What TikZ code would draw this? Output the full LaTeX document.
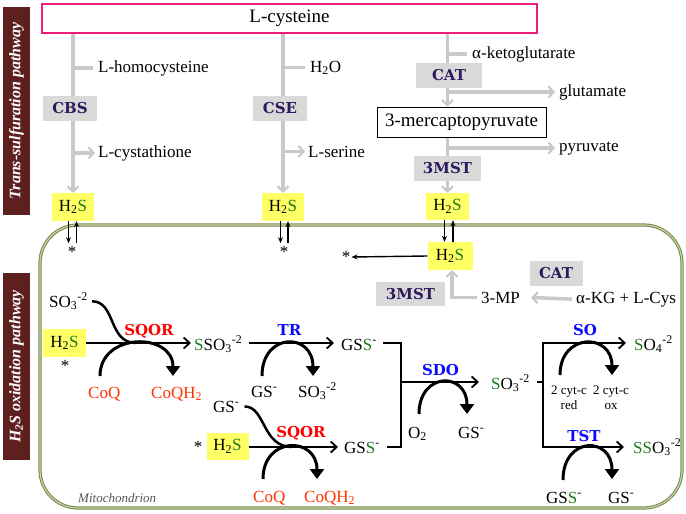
\documentclass[tikz,border=0pt]{standalone}
\usepackage{fontspec}
\setmainfont{Liberation Serif}
\newfontfamily\enzfont{DejaVu Serif}
\usetikzlibrary{arrows.meta,backgrounds}
\definecolor{cyspink}{HTML}{EC1E79}
\definecolor{sidebar}{HTML}{5E1F1F}
\definecolor{enzgray}{HTML}{D9D9D9}
\definecolor{enzpurple}{HTML}{2E1A5A}
\definecolor{lgray}{HTML}{C9C9C9}
\definecolor{hyellow}{HTML}{FFFF66}
\definecolor{sgreen}{HTML}{1F7A1F}
\definecolor{coqred}{HTML}{FF3300}
\definecolor{sqred}{HTML}{FF0000}
\definecolor{lblue}{HTML}{0A0AFF}
\definecolor{mitog}{HTML}{76894A}
\definecolor{mitolight}{HTML}{C8D2A8}
\definecolor{mitotext}{HTML}{555555}
\newcommand\myfs[2]{\fontsize{#1}{#2}\selectfont}
\newcommand\Sg{\textcolor{sgreen}{S}}
\newcommand\HHS{H\textsubscript{2}\Sg}
\newcommand\SOt{SO\textsubscript{3}\textsuperscript{-2}}
\newcommand\Ot{O\textsubscript{3}\textsuperscript{-2}}
\newcommand\mneg{\textsuperscript{-}}
\begin{document}
\begin{tikzpicture}[x=1pt,y=-1pt,
 txt/.style={inner sep=1pt,font=\myfs{17}{20}},
 btxt/.style={txt,anchor=base west},
 enz/.style={fill=enzgray,text=enzpurple,font=\enzfont\bfseries\myfs{15}{18},inner sep=0pt},
 hbox/.style={fill=hyellow,inner sep=0pt,font=\myfs{17}{20}},
 side/.style={fill=sidebar,text=white,font=\bfseries\itshape\myfs{16}{18},inner sep=0pt},
 glin/.style={draw=lgray,line width=3.5pt},
 garr/.style={glin,-{Straight Barb[length=5pt,width=11pt,line width=2.2pt]}},
 blk/.style={draw=black,line width=2pt},
 barr/.style={blk,-{Straight Barb[length=6pt,width=11pt,line width=1.8pt]}},
 sarr/.style={draw=black,line width=1.4pt,-{Stealth[length=6pt,width=5pt]}},
 carc/.style={draw=black,line width=3pt,-{Triangle[length=10pt,width=14pt]}},
 swoop/.style={draw=black,line width=2.5pt},
 redlab/.style={text=sqred,font=\enzfont\bfseries\myfs{15}{18},inner sep=1pt,anchor=base},
 bluelab/.style={redlab,text=lblue},
 coq/.style={btxt,text=coqred},
 cyt/.style={inner sep=0pt,align=center,font=\myfs{13}{15}}]
\useasboundingbox (0,0) rectangle (686,514);

% side bars
\node[side,minimum width=208,minimum height=27,rotate=90] (sideA) at (16.5,111) {Trans-sulfuration pathway};
\node[side,minimum width=187,minimum height=27,rotate=90] (sideB) at (16.5,366.5) {H\textsubscript{2}S oxidation pathway};

% mitochondrion
\node[draw=mitog,line width=1pt,double=mitolight,double distance=1.2pt,rounded corners=38,minimum width=642,minimum height=283] (mito) at (361,366.5) {};
\node[font=\itshape\myfs{13}{15},text=mitotext,inner sep=0pt,anchor=base west] (mitolab) at (78,502) {Mitochondrion};

% main line references
\coordinate (L1) at (0,343);
\coordinate (L2) at (0,447);
\coordinate (L3) at (0,382);

% ---------- trans-sulfuration ----------
\node[draw=cyspink,line width=2pt,minimum width=495,minimum height=29,inner sep=0pt,font=\myfs{19}{22}] (cys) at (289.5,18.5) {L-cysteine};

\node[hbox,minimum width=42,minimum height=28] (h1) at (73,207) {\HHS};
\node[hbox,minimum width=42,minimum height=28] (h2) at (283,207) {\HHS};
\node[hbox,minimum width=43,minimum height=27] (h3) at (447.5,206.5) {\HHS};

\node[enz,minimum width=54,minimum height=25] (cbs) at (70,108.5) {CBS};
\node[enz,minimum width=54,minimum height=25] (cse) at (280,108.5) {CSE};
\node[enz,minimum width=66,minimum height=25] (cat1) at (449,75.5) {CAT};
\node[draw,line width=1pt,fill=white,minimum width=169,minimum height=30,inner sep=0pt,font=\myfs{19}{22}] (mp) at (461.5,122) {3-mercaptopyruvate};
\node[enz,minimum width=67,minimum height=25] (mst1) at (447.5,168.5) {3MST};

\node[btxt] (hcy) at (97,72) {L-homocysteine};
\node[btxt] (cyst) at (97,157) {L-cystathione};
\node[btxt] (hho) at (309,72) {H\textsubscript{2}O};
\node[btxt] (ser) at (307,157) {L-serine};
\node[btxt] (akg) at (471,58) {α-ketoglutarate};
\node[btxt] (glu) at (558,96) {glutamate};
\node[btxt] (pyr) at (558,151) {pyruvate};

\begin{scope}[on background layer]
\draw[garr] (cys.south -| h1.north) -- (h1.north);
\draw[glin] (h1.north |- hcy.west) -- ([xshift=-4]hcy.west);
\draw[garr] (h1.north |- cyst.west) -- ([xshift=-2]cyst.west);
\draw[garr] (cys.south -| h2.north) -- (h2.north);
\draw[glin] (h2.north |- hho.west) -- ([xshift=-4]hho.west);
\draw[garr] (h2.north |- ser.west) -- ([xshift=-2]ser.west);
\draw[garr] (cys.south -| h3.north) -- (mp.north -| h3.north);
\draw[glin] (h3.north |- akg.west) -- ([xshift=-4]akg.west);
\draw[garr] (h3.north |- glu.west) -- ([xshift=-3]glu.west);
\draw[garr] (mp.south -| h3.north) -- (h3.north);
\draw[garr] (h3.north |- pyr.west) -- ([xshift=-3]pyr.west);
\end{scope}

% H2S exchange arrows
\node[txt] (st1) at (72,252) {*};
\node[txt] (st2) at (284,252) {*};
\draw[sarr] ([xshift=-4.5]h1.south) -- ++(0,22);
\draw[sarr] ([shift={(3.5,22)}]h1.south) -- ([xshift=3.5]h1.south);
\draw[sarr] ([xshift=-2.5]h2.south) -- ++(0,22);
\draw[sarr] ([shift={(5,22)}]h2.south) -- ([xshift=5]h2.south);

\node[hbox,minimum width=45,minimum height=28] (h4) at (450,256) {\HHS};
\draw[sarr] ([xshift=-3]h3.south) -- ([xshift=-3]h3.south |- h4.north);
\draw[sarr] ([xshift=5.5]h3.south |- h4.north) -- ([xshift=5.5]h3.south);
\node[txt] (st4) at (346,257) {*};
\draw[sarr] (h4.west) -- (st4.east);

\node[enz,minimum width=53,minimum height=25] (cat2) at (556,273.5) {CAT};
\node[enz,minimum width=69,minimum height=24] (mst2) at (410.5,294) {3MST};
\node[btxt] (mpthree) at (480,303) {3-MP};
\node[btxt] (akcys) at (575,303) {α-KG + L-Cys};
\draw[garr] ([xshift=-3]akcys.west) -- ([xshift=10]mpthree.east);
\draw[garr] ([xshift=-3]mpthree.west) -| ([xshift=2]h4.south);

% ---------- oxidation ----------
\node[btxt] (so3a) at (48,307) {\SOt};
\node[hbox,minimum width=43,minimum height=28] (h5) at (64.5,343) {\HHS};
\node[txt] (st5) at (65,366) {*};
\node[redlab] (sqor1) at (149,335) {SQOR};
\node[btxt] (ssoa) at (193,350) {\Sg\SOt};
\node[coq] (coq1) at (87,398) {CoQ};
\node[coq] (coqh1) at (150,398) {CoQH\textsubscript{2}};
\draw[barr] (h5.east) -- ([xshift=-2]ssoa.west |- L1);
\draw[swoop] ([xshift=3]so3a.east) .. controls +(24,0) and +(-28,0) .. (136,343);
\draw[carc] (100,376) .. controls (100,332) and (173,332) .. (173,376);

\node[bluelab] (tr) at (289.5,335) {TR};
\node[btxt] (gssa) at (340,350) {GS\Sg\mneg};
\node[btxt] (gs1) at (250,397) {GS\mneg};
\node[btxt] (so3b) at (297,397) {\SOt};
\draw[barr] ([xshift=6]ssoa.east |- L1) -- ([xshift=-6]gssa.west |- L1);
\draw[carc] (262,376) .. controls (262,332) and (313,332) .. (313,376);

\node[btxt] (gs2) at (212,412) {GS\mneg};
\node[txt] (st6) at (198,447) {*};
\node[hbox,minimum width=42,minimum height=27] (h6) at (227.5,446.5) {\HHS};
\node[redlab] (sqor2) at (301,437) {SQOR};
\node[btxt] (gssb) at (343,453) {GS\Sg\mneg};
\node[coq] (coq2) at (252,502) {CoQ};
\node[coq] (coqh2) at (303,502) {CoQH\textsubscript{2}};
\draw[barr] (h6.east |- L2) -- ([xshift=-5]gssb.west |- L2);
\draw[swoop] ([xshift=4]gs2.east) .. controls +(21,0) and +(-30,0) .. (292,447);
\draw[carc] (263,479) .. controls (263,436) and (317,436) .. (317,479);

% SDO
\coordinate (j1) at (401,382);
\node[bluelab] (sdo) at (440.5,375) {SDO};
\node[btxt] (so3c) at (490,389) {\Sg\Ot};
\node[btxt] (otwo) at (407,438) {O\textsubscript{2}};
\node[btxt] (gs3) at (457,438) {GS\mneg};
\draw[blk] ([xshift=5]gssa.east |- L1) -| (j1) |- ([xshift=6]gssb.east |- L2);
\draw[barr] (j1) -- ([xshift=-11]so3c.west |- L3);
\draw[carc] (419,414) .. controls (419,371.5) and (467,371.5) .. (467,414);

% SO / TST
\coordinate (j2) at (543,382);
\node[bluelab] (so) at (585,335) {SO};
\node[btxt] (so4) at (633,350) {\Sg O\textsubscript{4}\textsuperscript{-2}};
\node[cyt] (cyta) at (569,398) {2 cyt-c\\red};
\node[cyt] (cytb) at (611,398) {2 cyt-c\\ox};
\node[bluelab] (tst) at (584,441) {TST};
\node[btxt] (sso3r) at (632,453) {\Sg\Sg\Ot};
\node[btxt] (gssc) at (545,503) {GS\Sg\mneg};
\node[btxt] (gs4) at (607,503) {GS\mneg};
\draw[blk] ([xshift=6]so3c.east |- L3) -- (j2);
\draw[blk,{Straight Barb[length=6pt,width=11pt,line width=1.8pt]}-{Straight Barb[length=6pt,width=11pt,line width=1.8pt]}] ([xshift=-7]so4.west |- L1) -| (j2) |- ([xshift=-8]sso3r.west |- L2);
\draw[carc] (560,375) .. controls (560,332.5) and (612,332.5) .. (612,375);
\draw[carc] (563,480) .. controls (563,436) and (612,436) .. (612,479);
\end{tikzpicture}
\end{document}
